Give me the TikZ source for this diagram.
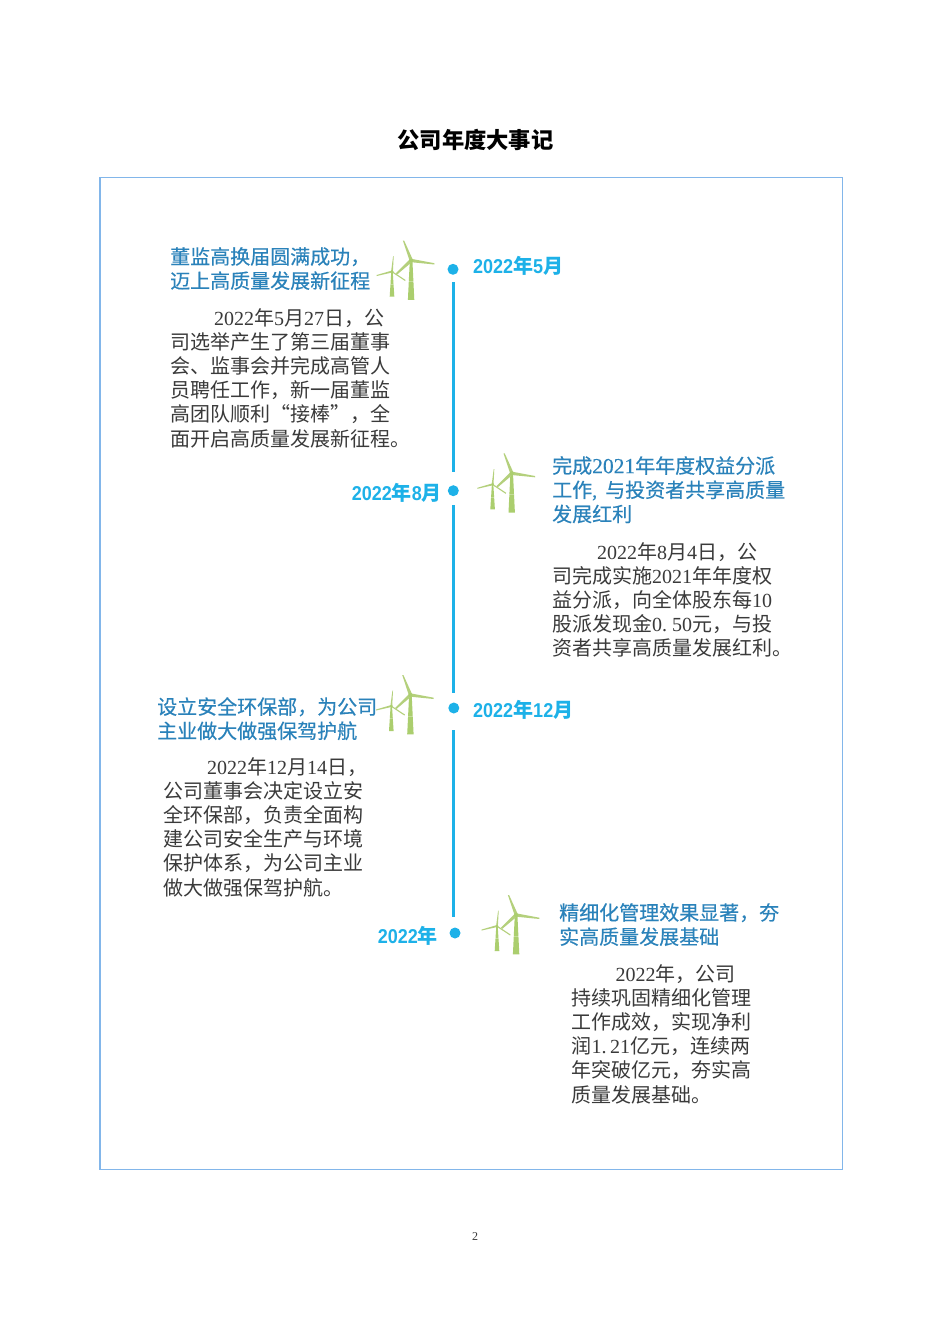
\documentclass[tikz,border=0pt]{standalone}
\usepackage{fontspec}
\setmainfont{Noto Sans CJK SC}
\newfontfamily\lat{Liberation Serif}
\newfontfamily\headfont[FakeBold=0.35]{Noto Sans CJK SC}
\newfontfamily\headlat[FakeBold=0.35]{Liberation Serif}
\newfontfamily\dated[FakeStretch=0.9]{Liberation Sans Bold}
\newcommand{\n}[1]{{\lat #1}}
\newcommand{\dg}[1]{{\dated #1}}
\definecolor{frameblue}{HTML}{82B6EA}
\definecolor{headblue}{HTML}{2A82BA}
\definecolor{dateblue}{HTML}{1DB1E8}
\definecolor{bodygray}{HTML}{3A3A3A}
\definecolor{towergreen}{HTML}{ABCE6E}
\definecolor{bladegreen}{HTML}{B4D07C}
\tikzset{
  x=1pt,y=-1pt,
  headtext/.style={anchor=north west,inner sep=0pt,align=left,text=headblue,font=\fontsize{20}{24.2}\selectfont\headfont},
  bodytext/.style={anchor=north west,inner sep=0pt,align=left,text=bodygray,font=\fontsize{20}{24.2}\selectfont},
  datetext/.style={inner sep=0pt,text=dateblue,font=\fontsize{20}{24}\selectfont\bfseries},
  dot/.style={circle,fill=dateblue,inner sep=0pt,minimum size=11pt},
  spine/.style={draw=dateblue,line width=3pt},
  turbine/.pic={
    \fill[towergreen] (-1.3,0) -- (1.3,0) -- (3.2,39.4) -- (-3.2,39.4) -- cycle;
    \fill[towergreen] (-19.8,11) -- (-18.4,11) -- (-16.8,36) -- (-21.4,36) -- cycle;
    \fill[bladegreen] (-1.7,-0.3) -- (-8.2,-20) -- (-7,-20) -- (1.7,-0.8) -- cycle;
    \fill[bladegreen] (0,-1.7) -- (23.3,2.7) -- (23.3,4) -- (0,1.7) -- cycle;
    \fill[bladegreen] (-1.2,-1.2) -- (-15.2,12.8) -- (-14,14) -- (1.2,1.2) -- cycle;
    \fill[bladegreen] (-20,11) -- (-18,-4.3) -- (-17.4,-4.3) -- (-18.2,11) -- cycle;
    \fill[bladegreen] (-19,10) -- (-34.4,14.5) -- (-34.4,15.5) -- (-19,12) -- cycle;
    \fill[bladegreen] (-19.6,10.2) -- (-5.5,19.5) -- (-6,20.5) -- (-18.6,12.2) -- cycle;
    \fill[towergreen] (0,0) circle (2);
    \fill[towergreen] (-19,11) circle (1.4);
    \draw[white,opacity=0.3,line width=0.5pt] (-3,21) -- (3,21);
    \draw[white,opacity=0.3,line width=0.5pt] (-22,23.5) -- (-16,23.5);
  }
}
\begin{document}
\begin{tikzpicture}
\useasboundingbox (0,0) rectangle (950,1344);
\fill[white] (0,0) rectangle (950,1344);
\node[inner sep=0pt,font=\fontsize{22.3}{26}\selectfont\bfseries] (title) at (475.5,140) {公司年度大事记};
\node[draw=frameblue,line width=1.2pt,inner sep=0pt,minimum width=742.5pt,minimum height=992pt,anchor=north west] (frame) at (99.4,176.8) {};
% dots
\node[dot] (d1) at (453,269.3) {};
\node[dot] (d2) at (453.3,490.7) {};
\node[dot] (d3) at (453.8,708) {};
\node[dot] (d4) at (455,933) {};
% spine
\draw[spine,shorten <=7pt,shorten >=13pt] (d1.south) -- (d1 |- d2.north);
\draw[spine,shorten <=9pt,shorten >=9.5pt] (d2.south) -- (d2 |- d3.north);
\draw[spine,shorten <=16.5pt,shorten >=10pt] (d3.south) -- (d3 |- d4.north);
% dates
\node[datetext,anchor=west] (t1) at (473,266) {\dg{2022}年\dg{5}月};
\node[datetext,anchor=east] (t2) at (442,493) {\dg{2022}年\dg{8}月};
\node[datetext,anchor=west] (t3) at (473,710) {\dg{2022}年\dg{12}月};
\node[datetext,anchor=east] (t4) at (438,935.5) {\dg{2022}年};
% turbines
\pic at (411.1,260.5) {turbine};
\pic at (511.7,473.3) {turbine};
\pic at (410.4,695) {turbine};
\pic at (516.1,915) {turbine};
% block 1
\node[headtext] (h1) at (170,247) {董监高换届圆满成功，\\迈上高质量发展新征程};
\node[bodytext] (b1) at (170,308) {\hspace*{44pt}\n{2022}年\n{5}月\n{27}日，公\\司选举产生了第三届董事\\会、监事会并完成高管人\\员聘任工作，新一届董监\\高团队顺利“接棒”，全\\面开启高质量发展新征程。};
% block 2
\node[headtext] (h2) at (552,456) {完成{\headlat\fontsize{21.5}{24.2}\selectfont 2021}年年度权益分派\\工作{\headlat ,}\hspace{8pt}与投资者共享高质量\\发展红利};
\node[bodytext] (b2) at (552,542) {\hspace*{45pt}\n{2022}年\n{8}月\n{4}日，公\\司完成实施\n{2021}年年度权\\益分派，向全体股东每\n{10}\\股派发现金\n{0.\hspace{5pt}50}元，与投\\资者共享高质量发展红利。};
% block 3
\node[headtext] (h3) at (157,697) {设立安全环保部，为公司\\主业做大做强保驾护航};
\node[bodytext] (b3) at (163,757) {\hspace*{44pt}\n{2022}年\n{12}月\n{14}日，\\公司董事会决定设立安\\全环保部，负责全面构\\建公司安全生产与环境\\保护体系，为公司主业\\做大做强保驾护航。};
% block 4
\node[headtext] (h4) at (559,903) {精细化管理效果显著，夯\\实高质量发展基础};
\node[bodytext] (b4) at (571.5,964) {\hspace*{44pt}\n{2022}年，公司\\持续巩固精细化管理\\工作成效，实现净利\\润\n{1.\hspace{3.5pt}21}亿元，连续两\\年突破亿元，夯实高\\质量发展基础。};
% page number
\node[inner sep=0pt,text=bodygray,font=\fontsize{12}{14}\selectfont\lat] (page) at (475,1236.5) {2};
\end{tikzpicture}
\end{document}
